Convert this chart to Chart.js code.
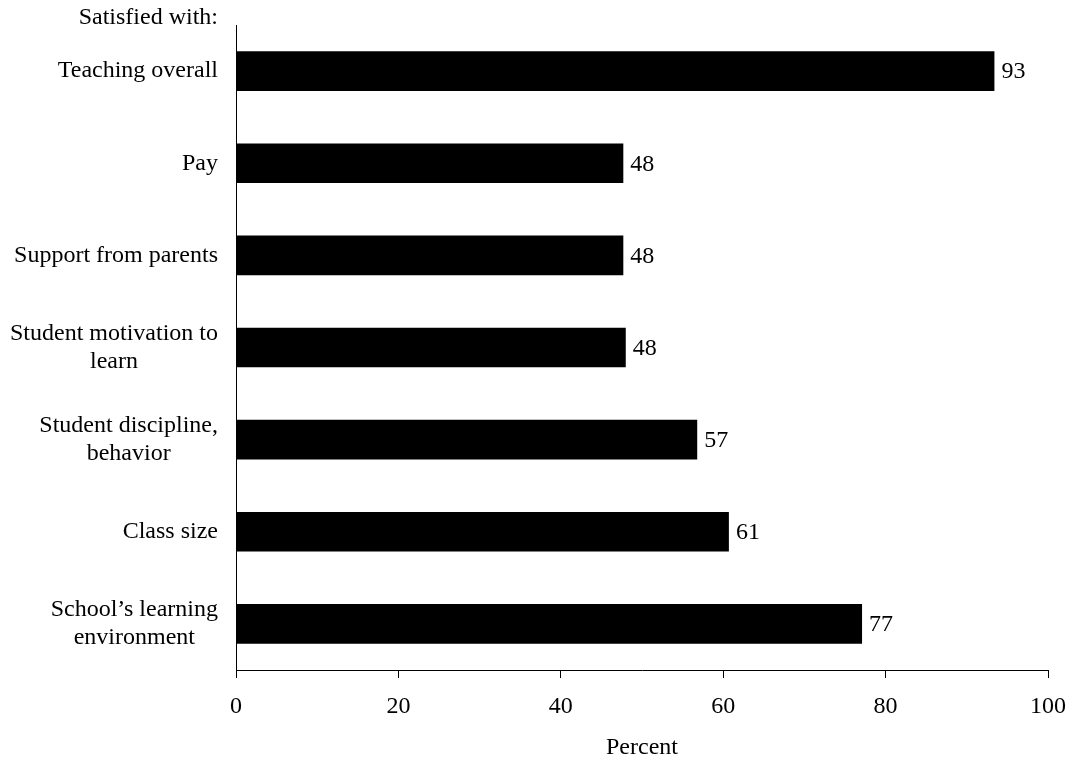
<!DOCTYPE html>
<html>
<head>
<meta charset="utf-8">
<script src="https://cdn.jsdelivr.net/npm/chart.js@4/dist/chart.umd.min.js"></script>
<style>
  html, body { margin: 0; padding: 0; background: #fff; }
</style>
</head>
<body>
<canvas id="myChart" width="1071" height="760"></canvas>
<script>
var categories = [
  ['Teaching overall'],
  ['Pay'],
  ['Support from parents'],
  ['Student motivation to', 'learn'],
  ['Student discipline,', 'behavior'],
  ['Class size'],
  ['School\u2019s learning', 'environment']
]
var percents = [93.4, 47.7, 47.7, 48.0, 56.8, 60.7, 77.1]
var percentLabels = ['93', '48', '48', '48', '57', '61', '77']
var xTicks = [0, 20, 40, 60, 80, 100]

var serif = "'Liberation Serif', 'Times New Roman', serif"
var fontPx = 24

// category labels: each block right aligned, lines centred inside it
var categoryLabels = {
  id: 'categoryLabels',
  afterDraw: function (chart) {
    var ctx = chart.ctx
    var yScale = chart.scales.y
    var rightEdge = chart.chartArea.left - 18
    ctx.save()
    ctx.font = fontPx + 'px ' + serif
    ctx.fillStyle = '#000'
    ctx.textBaseline = 'middle'
    ctx.textAlign = 'center'
    categories.forEach(function (lines, i) {
      var maxW = 0
      lines.forEach(function (l) { maxW = Math.max(maxW, ctx.measureText(l).width) })
      var cx = rightEdge - maxW / 2
      var cy = yScale.getPixelForTick(i)
      var lh = 28
      lines.forEach(function (l, j) {
        ctx.fillText(l, cx, cy + (j - (lines.length - 1) / 2) * lh)
      })
    })
    ctx.textAlign = 'right'
    ctx.fillText('Satisfied with:', rightEdge, 18)
    ctx.restore()
  }
}

var valueLabels = {
  id: 'valueLabels',
  afterDatasetsDraw: function (chart) {
    var ctx = chart.ctx
    var meta = chart.getDatasetMeta(0)
    ctx.save()
    ctx.font = fontPx + 'px ' + serif
    ctx.fillStyle = '#000'
    ctx.textAlign = 'left'
    ctx.textBaseline = 'middle'
    meta.data.forEach(function (bar, i) {
      ctx.fillText(percentLabels[i], bar.x + 7, bar.y + 1)
    })
    ctx.restore()
  }
}

var ctx = document.getElementById('myChart').getContext('2d')
var myChart = new Chart(ctx, {
  type: 'bar',
  data: {
    labels: categories,
    datasets: [{
      label: 'Percent',
      data: percents,
      backgroundColor: '#000',
      borderWidth: 0,
      categoryPercentage: 1,
      barPercentage: 0.43
    }]
  },
  options: {
    indexAxis: 'y',
    responsive: false,
    animation: false,
    layout: { padding: { top: 25, right: 23, left: 0, bottom: 0 } },
    plugins: {
      legend: { display: false },
      tooltip: { enabled: false }
    },
    scales: {
      x: {
        min: 0,
        max: 100,
        afterBuildTicks: function (scale) {
          scale.ticks = xTicks.map(function (v) { return { value: v } })
        },
        afterFit: function (scale) {
          scale.height = 90
          scale.paddingLeft = 0
          scale.paddingRight = 0
        },
        grid: {
          display: true,
          drawOnChartArea: false,
          drawTicks: true,
          tickLength: 8,
          color: '#000',
          lineWidth: 1
        },
        border: { display: true, color: '#000', width: 1 },
        ticks: {
          padding: 14,
          color: '#000',
          font: { family: serif, size: fontPx },
          maxRotation: 0
        },
        title: {
          display: true,
          text: 'Percent',
          color: '#000',
          font: { family: serif, size: fontPx, lineHeight: 1 },
          padding: { top: 0, bottom: 0 }
        }
      },
      y: {
        afterFit: function (scale) { scale.width = 236 },
        grid: { display: false },
        border: { display: true, color: '#000', width: 1 },
        ticks: { display: false }
      }
    }
  },
  plugins: [categoryLabels, valueLabels]
})
</script>
</body>
</html>
